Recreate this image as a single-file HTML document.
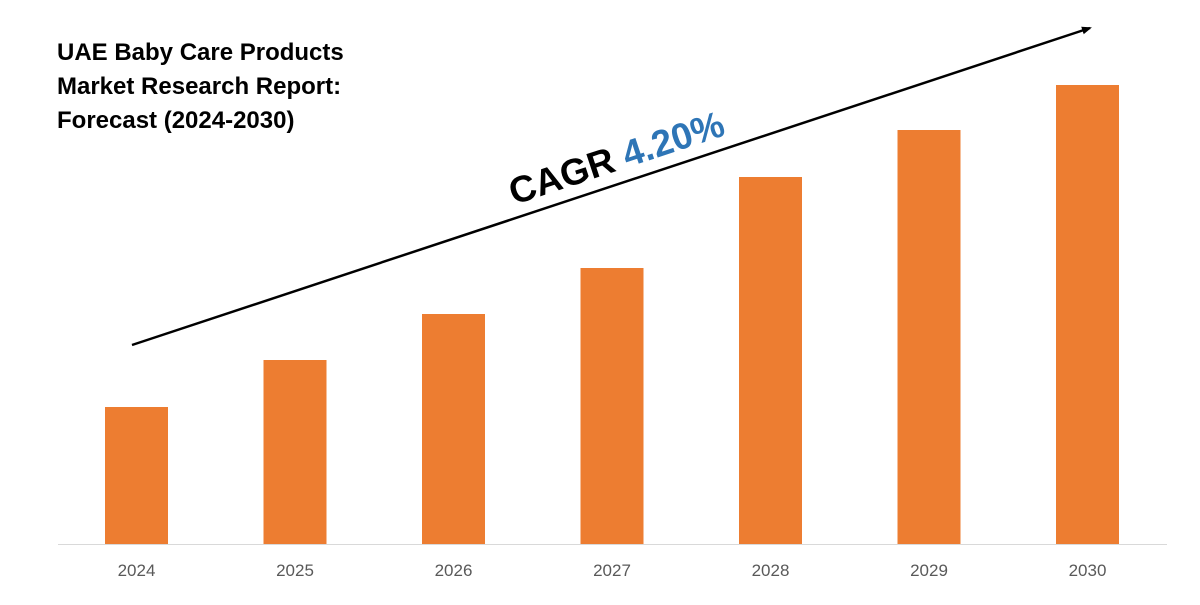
<!DOCTYPE html>
<html><head><meta charset="utf-8"><style>
body{margin:0;background:#fff;width:1200px;height:600px;overflow:hidden;font-family:"Liberation Sans",sans-serif}
</style></head><body>
<svg width="1200" height="600" viewBox="0 0 1200 600">
<defs><marker id="ah" markerWidth="10" markerHeight="10" refX="8" refY="5" orient="auto" markerUnits="userSpaceOnUse"><path d="M0,1 L10,5 L0,9 Z" fill="#000"/></marker></defs>
<g font-weight="bold" font-size="24" fill="#000">
<text x="57" y="60">UAE Baby Care Products</text>
<text x="57" y="94">Market Research Report:</text>
<text x="57" y="128">Forecast (2024-2030)</text>
</g>
<line x1="132" y1="345" x2="1090" y2="28" stroke="#000" stroke-width="2.5" marker-end="url(#ah)"/>
<text transform="translate(514,205) rotate(-18.3)" font-size="37" font-weight="bold" fill="#000">CAGR <tspan fill="#2e75b6">4.20%</tspan></text>
<g id="bars"></g>
<line x1="58" y1="544.5" x2="1167" y2="544.5" stroke="#d9d9d9" stroke-width="1"/>
<g id="labels"></g>
</svg>
<script>
const categories=["2024","2025","2026","2027","2028","2029","2030"];
const values=[1.37,1.84,2.30,2.76,3.67,4.14,4.59];
const baseY=544, pxPerUnit=100, x0=105, step=158.5, bw=63;
const ns="http://www.w3.org/2000/svg";
const yScale=v=>baseY-v*pxPerUnit;
const xScale=i=>x0+i*step;
const gb=document.getElementById("bars"), gl=document.getElementById("labels");
categories.forEach((c,i)=>{
  const r=document.createElementNS(ns,"rect");
  r.setAttribute("x",xScale(i));r.setAttribute("width",bw);
  r.setAttribute("y",yScale(values[i]));r.setAttribute("height",baseY-yScale(values[i]));
  r.setAttribute("fill","#ed7d31");
  
  
  gb.appendChild(r);
  const t=document.createElementNS(ns,"text");
  t.setAttribute("x",xScale(i)+bw/2);t.setAttribute("y",576);
  t.setAttribute("text-anchor","middle");t.setAttribute("font-size","17");t.setAttribute("fill","#595959");
  t.textContent=c;
  
  
  gl.appendChild(t);
});
</script>
</body></html>
